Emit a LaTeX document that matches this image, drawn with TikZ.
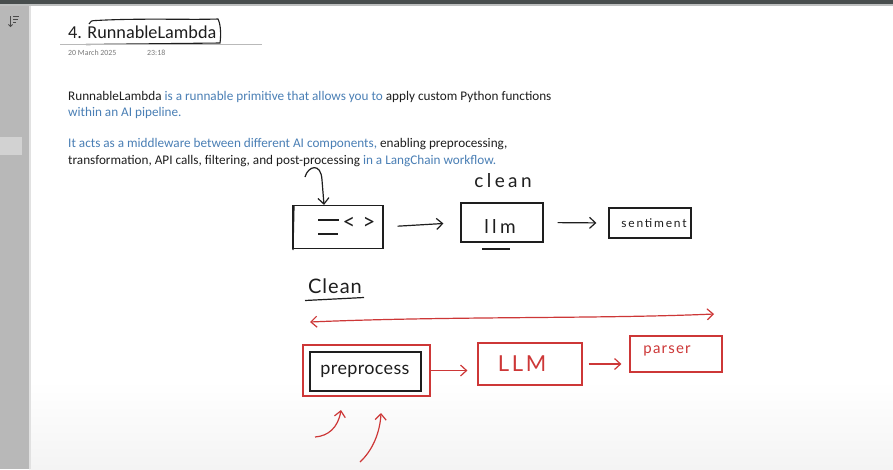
\documentclass[tikz,border=0pt]{standalone}
\usepackage{fontspec}
\setmainfont{Carlito}
\newfontfamily\hand{Lato}
\usetikzlibrary{arrows.meta}
\definecolor{ink}{RGB}{30,30,30}
\definecolor{pen}{RGB}{205,55,55}
\definecolor{lnk}{RGB}{74,127,181}
\definecolor{side}{RGB}{184,184,184}
\definecolor{tab}{RGB}{210,210,210}
\definecolor{topbar}{RGB}{72,78,78}
\definecolor{topstrip}{RGB}{190,192,192}
\definecolor{edge}{RGB}{225,225,225}
\definecolor{pagebot}{RGB}{244,244,244}
\definecolor{datec}{RGB}{120,120,120}
\tikzset{
  txt/.style={anchor=base west, inner sep=0pt, text=ink, font=\fontsize{13.2}{15}\selectfont},
  inkbox/.style={draw=ink, line width=1.2pt, inner sep=0pt},
  penbox/.style={draw=pen, line width=1.2pt, inner sep=0pt},
  inkarr/.style={draw=ink, line width=1.2pt, -{Straight Barb[length=6pt,width=11pt,line width=1.2pt]}},
  penarr/.style={draw=pen, line width=1.2pt, -{Straight Barb[length=6pt,width=11pt,line width=1.2pt]}},
  handtxt/.style={inner sep=0pt, font=\hand\fontsize{#1}{#1}\selectfont},
}
\begin{document}
\begin{tikzpicture}[x=1pt,y=-1pt]
\useasboundingbox (0,0) rectangle (893,469);
% backgrounds
\fill[white] (0,0) rectangle (893,469);
\shade[top color=white, bottom color=pagebot] (29,380) rectangle (893,469);
\fill[side] (0,0) rectangle (29,469);
\fill[tab] (0,137) rectangle (22,155);
\fill[edge] (29,6) rectangle (31,469);
\fill[topbar] (0,0) rectangle (893,3.5);
\fill[topstrip] (0,3.5) rectangle (893,6);
% sort icon
\draw[ink!80, line width=0.8pt, -{Straight Barb[length=2pt,width=4pt]}] (10.5,16) -- (10.5,27);
\draw[ink!80, line width=0.8pt] (13,16.5) -- (19,16.5) (13,19.5) -- (17.5,19.5) (13,22.5) -- (16,22.5);

% title
\node[anchor=base west, inner sep=0pt, text=ink, font=\fontsize{18.2}{20}\selectfont] (title) at (68,38) {4. RunnableLambda};
\draw[ink, line width=1.1pt] (89,24) .. controls (90,21) and (92,20.5) .. (96,20.5) .. controls (140,18) and (190,20) .. (218,19)
  .. controls (221,25) and (221,36) .. (220,43) -- (86,44.5);
\draw[gray!55, line width=0.8pt] (60,44.5) -- (262,44.5);
\node[anchor=base west, inner sep=0pt, text=datec, font=\fontsize{7.9}{9}\selectfont] (date) at (68,55) {20 March 2025};
\node[anchor=base west, inner sep=0pt, text=datec, font=\fontsize{7.9}{9}\selectfont] (time) at (147,55) {23:18};

% paragraphs
\node[txt] (p1a) at (68,100) {RunnableLambda \textcolor{lnk}{is a runnable primitive that allows you to} apply custom Python functions};
\node[txt] (p1b) at (68,116.5) {\textcolor{lnk}{within an AI pipeline.}};
\node[txt] (p2a) at (68,147) {\textcolor{lnk}{It acts as a middleware between different AI components,} enabling preprocessing,};
\node[txt] (p2b) at (68,164) {transformation, API calls, filtering, and post-processing \textcolor{lnk}{in a LangChain workflow.}};

% first diagram (black)
\node[inkbox, minimum width=90pt, minimum height=43pt] (b1) at (338,227) {};
\draw[ink, line width=1.2pt] (294,206) -- (293,250);
\draw[ink, line width=1.2pt] (318,220) -- (339,220) (318,234) -- (338,234);
\node[handtxt=22, text=ink] (code) at (359,223) {<\,\,>};
\coordinate (a0) at (305,177);
\draw[inkarr] (a0) .. controls (308,166) and (321,162) .. (322,180) -- (b1.north -| 324,0);
\node[inkbox, minimum width=82pt, minimum height=39pt] (b2) at (502,222.5) {};
\node[handtxt=19, text=ink] (llm) at (500,226) {\addfontfeature{LetterSpace=18}llm};
\draw[ink, line width=2.2pt] (482,249) -- (510,249);
\node[handtxt=19, text=ink] (clean1) at (503,181) {\addfontfeature{LetterSpace=18}clean};
\node[inkbox, minimum width=82pt, minimum height=30pt] (b3) at (650,223) {};
\node[handtxt=12, text=ink] (sent) at (654,223) {\addfontfeature{LetterSpace=15}sentiment};
\draw[inkarr, shorten <=14pt, shorten >=17pt] (b1.east) -- (b2.west);
\draw[inkarr, shorten <=14pt, shorten >=12pt] (b2.east) -- (b3.west);

% second diagram (red)
\node[handtxt=20, text=ink] (clean2) at (335,286) {\addfontfeature{LetterSpace=5}Clean};
\draw[ink, line width=1.2pt] (305,300.5) -- (364,297.5);
\coordinate (dl) at (310,322);
\coordinate (dr) at (714,314);
\draw[pen, line width=1.2pt, {Straight Barb[length=6pt,width=11pt,line width=1.2pt]}-{Straight Barb[length=6pt,width=11pt,line width=1.2pt]}]
  (dl) .. controls (450,316) and (600,319) .. (dr);
\node[penbox, minimum width=127pt, minimum height=51pt] (pre) at (366.5,370.5) {};
\node[inkbox, minimum width=111pt, minimum height=39pt] (prein) at (365.5,371.5) {};
\node[handtxt=18, text=ink] (pretxt) at (365,371) {\addfontfeature{LetterSpace=2}preprocess};
\node[penbox, minimum width=104pt, minimum height=42pt] (llm2) at (530,364) {};
\node[handtxt=22, text=pen] (llmtxt) at (522,364) {\addfontfeature{LetterSpace=12}LLM};
\node[penbox, minimum width=92pt, minimum height=36pt] (pars) at (676,354) {};
\node[handtxt=15, text=pen] (parstxt) at (667,351) {\addfontfeature{LetterSpace=8}parser};
\draw[penarr, shorten >=10pt] (pre.east) -- (llm2.west |- pre.east);
\draw[penarr, shorten <=6pt, shorten >=8pt] (llm2.east) -- (pars.west |- llm2.east);
\coordinate (c1) at (315,437);
\coordinate (c1e) at (341,410);
\coordinate (c2) at (360,462);
\coordinate (c2e) at (381,413);
\draw[penarr] (c1) .. controls (328,436) and (338,428) .. (c1e);
\draw[penarr] (c2) .. controls (373,450) and (380,432) .. (c2e);
\end{tikzpicture}
\end{document}
